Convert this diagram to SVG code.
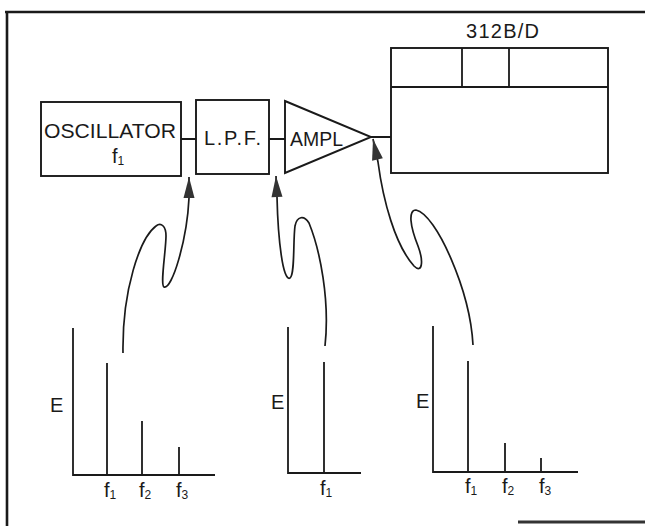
<svg xmlns="http://www.w3.org/2000/svg" width="645" height="526" viewBox="0 0 645 526">
<defs>
<style>
.ln{fill:none;stroke:#1a1a1a;stroke-width:1.8}
.bx{fill:#fff;stroke:#1a1a1a;stroke-width:1.9}
.fr{fill:none;stroke:#1a1a1a;stroke-width:2.6}
.t{font-family:"Liberation Sans",Arial,sans-serif;font-size:20px;fill:#1a1a1a}
.s{font-size:12px}
.cv{fill:none;stroke:#1a1a1a;stroke-width:1.7}
</style>
<marker id="ah" markerUnits="userSpaceOnUse" markerWidth="30" markerHeight="14" viewBox="-24 -7 26 14" refX="0" refY="0" orient="auto-start-reverse">
<path d="M0,0 L-21,-5.5 L-21,5.5 Z" fill="#333"/>
</marker>
</defs>
<rect width="645" height="526" fill="#fff"/>
<g id="frame">
<path class="fr" d="M5,12 H645 M7,12 V526"/>
<path d="M518,522 H645" stroke="#333" stroke-width="3"/>
</g>
<g id="connectors">
<path class="ln" d="M181,139 H196 M269,139 H285 M371,137 H391"/>
<path class="cv" marker-start="url(#ah)" d="M189,177 L189,198 C187,240 172,290 164,287 C160,285 166,250 166,236 C166,226 161,222 156,226 C140,238 122,290 123,353"/>
<path class="cv" marker-start="url(#ah)" d="M276,176 L277,197 C278,240 283,282 290,278 C295,275 293,240 295,226 C297,216 304,215 309,223 C320,250 330,300 325,346"/>
<path class="cv" marker-start="url(#ah)" d="M373,139 L378,162 C383,200 395,245 414,266 C422,274 424,262 418,246 C410,226 408,210 416,210 C436,214 470,290 473,345"/>
</g>
<g id="oscillator">
<rect class="bx" x="41" y="102" width="140" height="74"/>
<text class="t" x="44" y="138" textLength="132" lengthAdjust="spacingAndGlyphs" style="font-size:21px">OSCILLATOR</text>
<text class="t" x="112" y="163">f<tspan class="s" dy="2">1</tspan></text>
</g>
<g id="lpf">
<rect class="bx" x="196" y="100" width="73" height="74"/>
<text class="t" x="204" y="145" textLength="57" lengthAdjust="spacing">L.P.F.</text>
</g>
<g id="ampl">
<path class="bx" d="M285,101 L371,137 L285,173 Z"/>
<text class="t" x="290" y="146" textLength="53" lengthAdjust="spacingAndGlyphs">AMPL</text>
</g>
<g id="unit312">
<text class="t" x="466" y="38" textLength="73" lengthAdjust="spacing">312B/D</text>
<rect class="bx" x="391" y="48" width="217" height="125"/>
<path class="ln" d="M391,87 H608 M462,48 V87 M509,48 V87"/>
</g>
<g id="graph1">
<path class="ln" d="M73,328 V475 H215 M107,475 V363 M142,475 V421 M179,475 V447"/>
<text class="t" x="50" y="412">E</text>
<text class="t" x="104" y="497">f<tspan class="s" dy="2">1</tspan></text>
<text class="t" x="139" y="497">f<tspan class="s" dy="2">2</tspan></text>
<text class="t" x="176" y="497">f<tspan class="s" dy="2">3</tspan></text>
</g>
<g id="graph2">
<path class="ln" d="M288,327 V473 H361 M324,473 V362"/>
<text class="t" x="271" y="409">E</text>
<text class="t" x="320" y="495">f<tspan class="s" dy="2">1</tspan></text>
</g>
<g id="graph3">
<path class="ln" d="M433,326 V472 H578 M468,472 V361 M505,472 V443 M541,472 V458"/>
<text class="t" x="416" y="408">E</text>
<text class="t" x="465" y="493">f<tspan class="s" dy="2">1</tspan></text>
<text class="t" x="502" y="493">f<tspan class="s" dy="2">2</tspan></text>
<text class="t" x="539" y="493">f<tspan class="s" dy="2">3</tspan></text>
</g>
</svg>
